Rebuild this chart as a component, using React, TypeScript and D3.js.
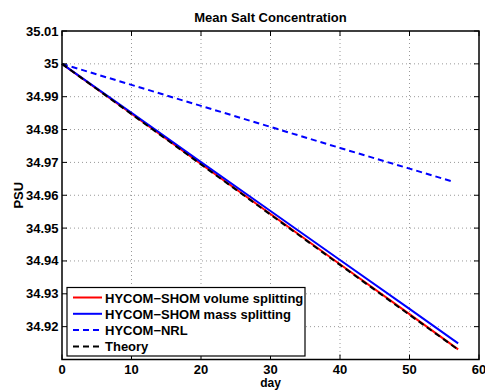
import React from "react";
import * as d3 from "d3";

const days = [0, 10, 20, 30, 40, 50, 57];
const volumeSplitting = [35.0, 34.9848, 34.9695, 34.9543, 34.939, 34.9238, 34.9131];
const massSplitting = [35.0, 34.9851, 34.9701, 34.9552, 34.9403, 34.9254, 34.9149];
const nrlDays = [0, 10, 20, 30, 40, 50, 56.3];
const nrl = [35.0, 34.9936, 34.9872, 34.9808, 34.9744, 34.9681, 34.9641];
const theory = [35.0, 34.9847, 34.9694, 34.9541, 34.9388, 34.9236, 34.913];

const xTicks = [0, 10, 20, 30, 40, 50, 60];
const yTicks = [34.92, 34.93, 34.94, 34.95, 34.96, 34.97, 34.98, 34.99, 35, 35.01];
const yTickLabels = ["34.92", "34.93", "34.94", "34.95", "34.96", "34.97", "34.98", "34.99", "35", "35.01"];

const legendLabels = [
  "HYCOM\u2212SHOM volume splitting",
  "HYCOM\u2212SHOM mass splitting",
  "HYCOM\u2212NRL",
  "Theory",
];

export default function App() {
  const W = 485, H = 390;
  const L = 62, R = 479, T = 31, B = 359.5;
  const x = d3.scaleLinear().domain([0, 60]).range([L, R]);
  const y = d3.scaleLinear().domain([34.91, 35.01]).range([B, T]);
  const line = d3.line<[number, number]>().x(d => x(d[0])).y(d => y(d[1]));
  const font = "'Liberation Sans', Arial, sans-serif";
  const fs = 13;

  const series = [
    { xs: days, ys: volumeSplitting, color: "#ff0000", dash: "" },
    { xs: days, ys: massSplitting, color: "#0000ff", dash: "" },
    { xs: nrlDays, ys: nrl, color: "#0000ff", dash: "6,4" },
    { xs: days, ys: theory, color: "#000000", dash: "6,4" },
  ];

  const lg = { x: 67, y: 287.5, w: 238, h: 68.5 };

  return (
    <svg width={W} height={H} style={{ position: "absolute", left: 0, top: 0, background: "#fff" }}>
      <rect x={0} y={0} width={W} height={H} fill="#fff" />
      {/* grid */}
      {xTicks.slice(1, -1).map(t => (
        <line key={"gx" + t} x1={x(t)} x2={x(t)} y1={T} y2={B} stroke="#999" strokeWidth={1} strokeDasharray="1,3" />
      ))}
      {yTicks.slice(0, -1).map(t => (
        <line key={"gy" + t} x1={L} x2={R} y1={y(t)} y2={y(t)} stroke="#999" strokeWidth={1} strokeDasharray="1,3" />
      ))}
      {/* series */}
      {series.map((s, i) => (
        <path
          key={i}
          d={line(s.xs.map((d, j) => [d, s.ys[j]] as [number, number])) || ""}
          fill="none"
          stroke={s.color}
          strokeWidth={2}
          strokeDasharray={s.dash || undefined}
        />
      ))}
      {/* ticks */}
      {xTicks.map(t => (
        <g key={"tx" + t}>
          <line x1={x(t)} x2={x(t)} y1={B} y2={B - 5} stroke="#000" />
          <line x1={x(t)} x2={x(t)} y1={T} y2={T + 5} stroke="#000" />
          <text x={x(t)} y={373.5} textAnchor="middle" fontFamily={font} fontWeight="bold" fontSize={fs}>{t}</text>
        </g>
      ))}
      {yTicks.map((t, i) => (
        <g key={"ty" + t}>
          <line x1={L} x2={L + 5} y1={y(t)} y2={y(t)} stroke="#000" />
          <line x1={R} x2={R - 5} y1={y(t)} y2={y(t)} stroke="#000" />
          <text x={L - 3.5} y={y(t) + 4.5} textAnchor="end" fontFamily={font} fontWeight="bold" fontSize={fs}>{yTickLabels[i]}</text>
        </g>
      ))}
      {/* axes box */}
      <rect x={L} y={T} width={R - L} height={B - T} fill="none" stroke="#000" strokeWidth={1.5} />
      {/* legend */}
      <rect x={lg.x} y={lg.y} width={lg.w} height={lg.h} fill="#fff" stroke="#000" strokeWidth={1.2} />
      {legendLabels.map((lab, i) => {
        const s = series[i];
        const yy = lg.y + 10 + i * 16.3;
        return (
          <g key={lab}>
            <line x1={lg.x + 6} x2={lg.x + 35} y1={yy} y2={yy} stroke={s.color} strokeWidth={2} strokeDasharray={s.dash || undefined} />
            <text x={lg.x + 38} y={yy + 5} fontFamily={font} fontWeight="bold" fontSize={fs}>{lab}</text>
          </g>
        );
      })}
      {/* labels */}
      <text x={(L + R) / 2} y={22} textAnchor="middle" fontFamily={font} fontWeight="bold" fontSize={fs}>Mean Salt Concentration</text>
      <text x={(L + R) / 2} y={387.3} textAnchor="middle" fontFamily={font} fontWeight="bold" fontSize={12}>day</text>
      <text transform={`translate(23,${(T + B) / 2}) rotate(-90)`} textAnchor="middle" fontFamily={font} fontWeight="bold" fontSize={fs}>PSU</text>
    </svg>
  );
}
